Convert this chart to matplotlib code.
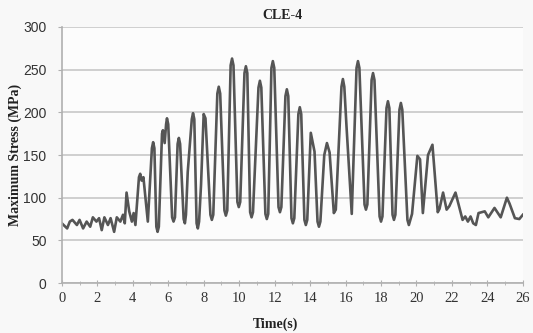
import numpy as np
import matplotlib
matplotlib.use('Agg')
import matplotlib.pyplot as plt

# time (s) and maximum stress (MPa)
time_s = [0.0, 0.1, 0.3, 0.45, 0.6, 0.85, 1.0, 1.2, 1.4, 1.6, 1.75, 1.95, 2.1, 2.25,
          2.4, 2.6, 2.75, 2.95, 3.1, 3.3, 3.45, 3.55, 3.65, 3.8, 3.95, 4.05, 4.15,
          4.35, 4.42, 4.5, 4.6, 4.85, 5.08, 5.15, 5.22, 5.33, 5.4, 5.47,
          5.65, 5.7, 5.8, 5.88, 5.93, 6.0, 6.22, 6.3, 6.38, 6.53, 6.6, 6.67,
          6.87, 6.94, 7.0, 7.1, 7.33, 7.4, 7.47, 7.6, 7.67, 7.74, 7.85, 8.0, 8.1,
          8.38, 8.46, 8.54, 8.77, 8.85, 8.93, 9.17, 9.25, 9.33, 9.52, 9.6, 9.68,
          9.9, 9.98, 10.06, 10.3, 10.38, 10.46, 10.62, 10.7, 10.78, 11.09, 11.17,
          11.25, 11.48, 11.56, 11.64, 11.82, 11.9, 11.98, 12.22, 12.3, 12.38,
          12.61, 12.69, 12.77, 12.95, 13.03, 13.11, 13.34, 13.42, 13.5, 13.68,
          13.76, 13.84, 14.04, 14.25, 14.42, 14.5, 14.58, 14.8, 14.95, 15.1,
          15.34, 15.45, 15.77, 15.85, 15.93, 16.05, 16.35, 16.62, 16.7, 16.78,
          17.07, 17.15, 17.23, 17.47, 17.55, 17.63, 17.92, 18.0, 18.08, 18.31,
          18.39, 18.47, 18.65, 18.73, 18.81, 19.04, 19.12, 19.2, 19.49, 19.57,
          19.75, 20.05, 20.2, 20.36, 20.65, 20.9, 21.2, 21.3, 21.5, 21.7, 21.85,
          22.2, 22.6, 22.75, 22.9, 23.05, 23.2, 23.35, 23.5, 23.85, 24.05, 24.4,
          24.75, 25.1, 25.25, 25.55, 25.8, 26.0]
stress = [70, 68, 64, 72, 74, 68, 74, 64, 72, 66, 77, 72, 76, 62,
          77, 68, 76, 60, 77, 72, 80, 70, 106, 84, 72, 82, 68,
          124, 128, 120, 124, 72, 158, 165, 158, 66, 60, 66,
          175, 179, 164, 186, 193, 186, 77, 72, 77, 163, 170, 163,
          75, 70, 80, 130, 192, 199, 192, 70, 64, 72, 115, 198, 193,
          80, 74, 80, 222, 230, 222, 85, 79, 85, 255, 263, 255,
          95, 89, 95, 246, 254, 246, 83, 77, 83, 229, 237,
          229, 81, 75, 81, 252, 260, 252, 89, 83, 89,
          219, 227, 219, 76, 70, 76, 198, 206, 198, 74,
          68, 74, 176, 154, 72, 66, 72, 150, 164, 153,
          82, 86, 230, 239, 230, 185, 81, 252, 260, 252,
          92, 86, 92, 238, 246, 238, 78, 72, 78, 205,
          213, 205, 80, 74, 80, 203, 211, 203, 74, 68,
          81, 149, 145, 82, 150, 162, 83, 87, 106, 86, 90,
          106, 74, 78, 72, 78, 70, 68, 82, 84, 77, 88,
          77, 100, 93, 76, 75, 80]

xticks = np.arange(0, 27, 2)
yticks = np.arange(0, 301, 50)

fig = plt.figure(figsize=(5.33, 3.33), dpi=100, facecolor='#f8f8f8')
ax = fig.add_axes([0.116, 0.150, 0.865, 0.769])
ax.set_facecolor('#fcfcfc')

ax.plot(time_s, stress, color='#555555', lw=1.9, solid_joinstyle='round')

ax.set_xlim(0, 26)
ax.set_ylim(0, 300)
ax.set_xticks(xticks)
ax.set_xticks(np.arange(1, 26, 2), minor=True)
ax.set_yticks(yticks)
ax.yaxis.grid(True, color='#c8c8c8', lw=1.2)
ax.set_axisbelow(True)

for s in ['top', 'right']:
    ax.spines[s].set_visible(False)
for s in ['left', 'bottom']:
    ax.spines[s].set_color('#b0b0b0')
    ax.spines[s].set_linewidth(1.2)

ax.tick_params(axis='x', which='both', direction='inout', color='#b0b0b0', length=5,
               labelsize=10.5, labelcolor='#333333', pad=4)
ax.tick_params(axis='x', which='minor', length=3)
ax.tick_params(axis='y', direction='out', color='#b0b0b0', length=3,
               labelsize=10, labelcolor='#333333', pad=8)
for lab in ax.get_xticklabels():
    lab.set_fontfamily('Liberation Serif')
for lab in ax.get_yticklabels():
    lab.set_fontfamily('Liberation Sans')

fig.text(0.529, 0.952, 'CLE-4', ha='center', va='center', fontsize=10,
         fontweight='bold', family='Liberation Serif', color='#222222')
fig.text(0.516, 0.025, 'Time(s)', ha='center', va='center', fontsize=10,
         fontweight='bold', family='Liberation Serif', color='#222222')
fig.text(0.028, 0.535, 'Maximum Stress (MPa)', ha='center', va='center', fontsize=10,
         fontweight='bold', family='Liberation Serif', color='#222222', rotation=90)

fig.savefig('out.png', dpi=100, facecolor=fig.get_facecolor())
